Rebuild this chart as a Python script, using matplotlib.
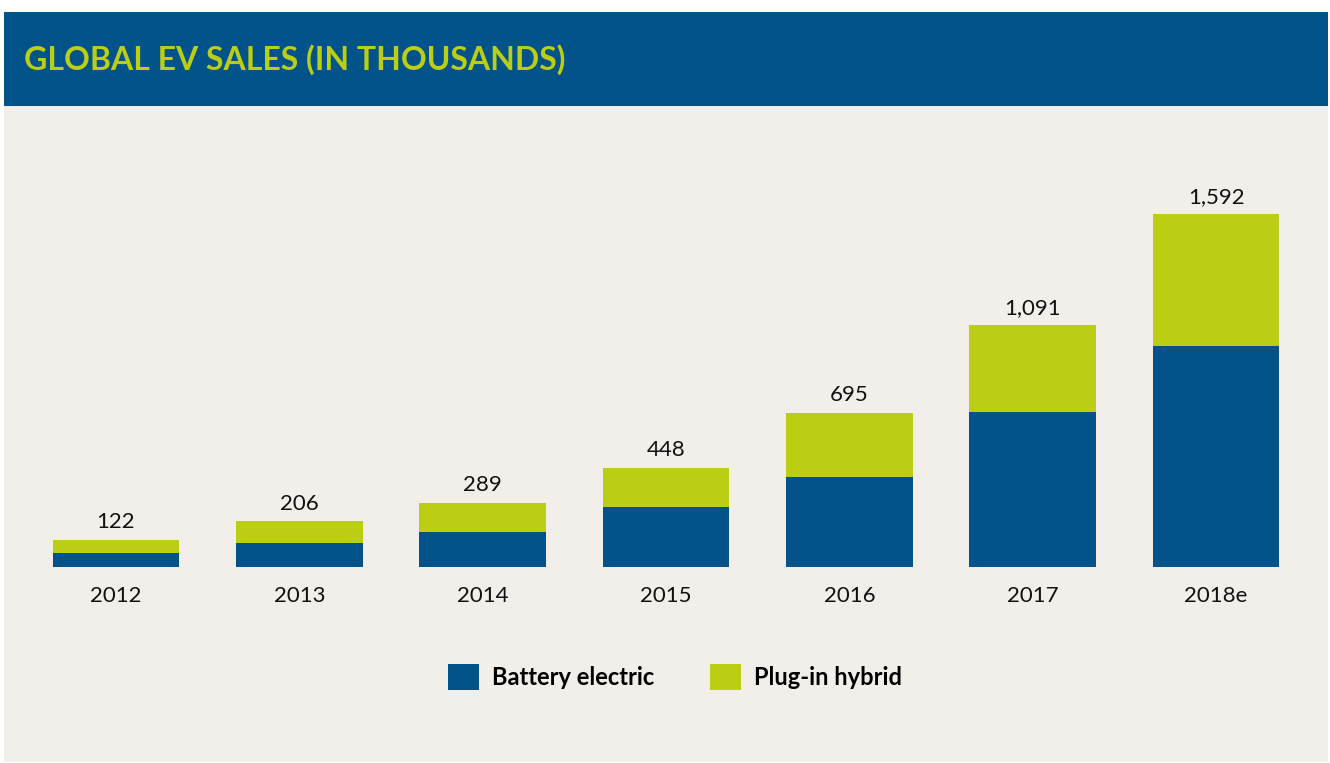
import matplotlib
matplotlib.use("Agg")
import matplotlib.pyplot as plt
from matplotlib.patches import Rectangle

years = ["2012", "2013", "2014", "2015", "2016", "2017", "2018e"]
battery_electric = [63, 108, 156, 269, 408, 698, 1000]
plug_in_hybrid = [59, 98, 133, 179, 287, 393, 592]
totals = [122, 206, 289, 448, 695, 1091, 1592]

BLUE = "#01538A"
GREEN = "#BBCE13"
BG = "#F2EFEB"
FONT = ["Lato", "DejaVu Sans"]

W, H = 1330, 763
fig = plt.figure(figsize=(W / 100, H / 100), dpi=100, facecolor="white")

def fx(px):
    return px / W

def fy(py):
    return 1 - py / H

# background panel and header band
fig.patches.append(Rectangle((fx(4), fy(762)), fx(1328) - fx(4), fy(12) - fy(762),
                             transform=fig.transFigure, facecolor=BG, edgecolor="none", zorder=-3))
fig.patches.append(Rectangle((fx(4), fy(106)), fx(1328) - fx(4), fy(12) - fy(106),
                             transform=fig.transFigure, facecolor=BLUE, edgecolor="none", zorder=-2))
fig.text(fx(24), fy(60), "GLOBAL EV SALES (IN THOUSANDS)", color=GREEN, fontsize=23,
         fontweight="bold", family=FONT, va="center", ha="left")

# axes
ax_left, ax_right = 24.3, 1307.7
ax_bottom, ax_top = 567, 150
ax = fig.add_axes([fx(ax_left), fy(ax_bottom), fx(ax_right) - fx(ax_left), (ax_bottom - ax_top) / H])
ax.set_facecolor("none")
ax.set_zorder(1)
x = list(range(len(years)))
ax.bar(x, battery_electric, width=0.69, color=BLUE, label="Battery electric")
ax.bar(x, plug_in_hybrid, width=0.69, bottom=battery_electric, color=GREEN, label="Plug-in hybrid")
ax.set_xlim(-0.5, len(years) - 0.5)
ax.set_ylim(0, (ax_bottom - ax_top) / 0.2215)
for xi, t in zip(x, totals):
    ax.annotate(f"{t:,}", (xi, t), xytext=(0, 5.5), textcoords="offset points",
                ha="center", va="bottom", fontsize=16, family=FONT, color="#111111")
ax.set_xticks(x)
ax.set_xticklabels(years, fontsize=16, family=FONT, color="#111111")
ax.tick_params(axis="x", length=0, pad=13.5)
ax.set_yticks([])
for s in ax.spines.values():
    s.set_visible(False)

# legend
handles, labels = ax.get_legend_handles_labels()
leg = fig.legend(handles=handles, labels=labels,
                 loc="center", bbox_to_anchor=(fx(675), fy(677)), ncol=2, frameon=False,
                 prop={"family": FONT, "weight": "bold", "size": 17},
                 handlelength=1.3, handleheight=1.3, handletextpad=0.55, columnspacing=2.35)

fig.savefig("out.png", dpi=100, facecolor="white")
